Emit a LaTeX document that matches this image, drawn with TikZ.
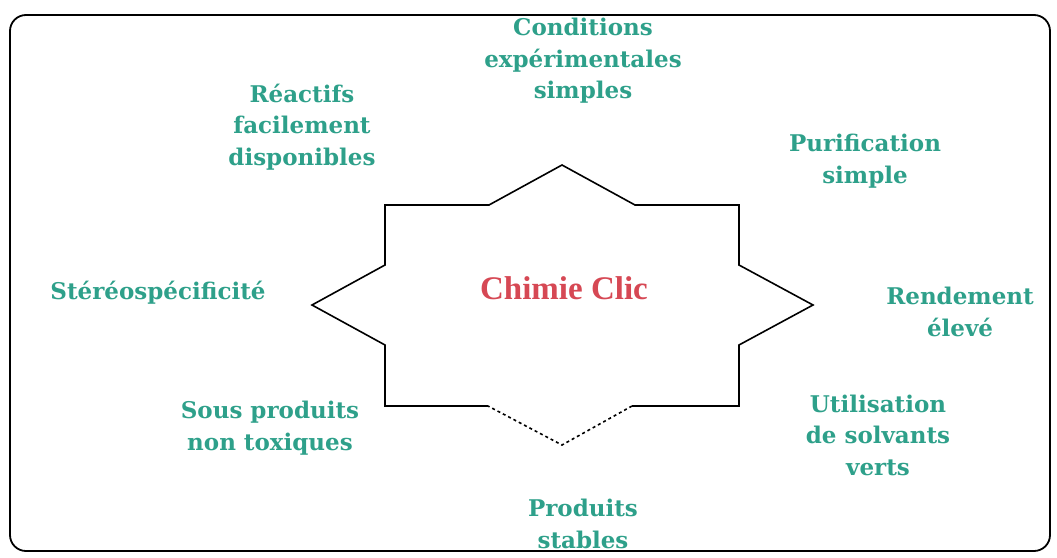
\documentclass[tikz,border=0pt]{standalone}
\usepackage{fontspec}
\setmainfont{DejaVu Serif}
\newfontfamily\titrefont{Liberation Serif}
\usepackage{xcolor}
\definecolor{clicgreen}{RGB}{46,160,138}
\definecolor{clicred}{RGB}{214,72,84}
\tikzset{atout/.style={text=clicgreen, font=\fontsize{23}{31.5}\selectfont\bfseries, align=center},
titre/.style={text=clicred, font=\titrefont\fontsize{33}{34}\selectfont\bfseries}}

\begin{document}
\begin{tikzpicture}[x=1pt, y=-1pt]
\useasboundingbox (0,0) rectangle (1057,557);
\draw[line width=1.8pt, rounded corners=16pt] (10,15) rectangle (1050,551);
% the star
\draw[line width=1.6pt, line join=miter] (488,406) -- (385,406) -- (385,345) -- (312,305) -- (385,265) -- (385,205)
  -- (489,205) -- (562,165) -- (635,205) -- (739,205) -- (739,265) -- (813,305) -- (739,345)
  -- (739,406) -- (632,406);
\draw[line width=1.6pt, dashed] (632,406) -- (562,445) -- (488,406);
\node[titre] (clic) at (564,288) {Chimie Clic};
\node[atout] (cond) at (583,61) {Conditions\\expérimentales\\simples};
\node[atout] (reac) at (302,127) {Réactifs\\facilement\\disponibles};
\node[atout] (puri) at (865,161) {Purification\\simple};
\node[atout] (ster) at (158,293) {Stéréospécificité};
\node[atout] (rend) at (960,312) {Rendement\\élevé};
\node[atout] (sous) at (270,428) {Sous produits\\non toxiques};
\node[atout] (solv) at (878,435) {Utilisation\\de solvants\\verts};
\node[atout] (prod) at (583,524) {Produits\\stables};
\end{tikzpicture}
\end{document}
